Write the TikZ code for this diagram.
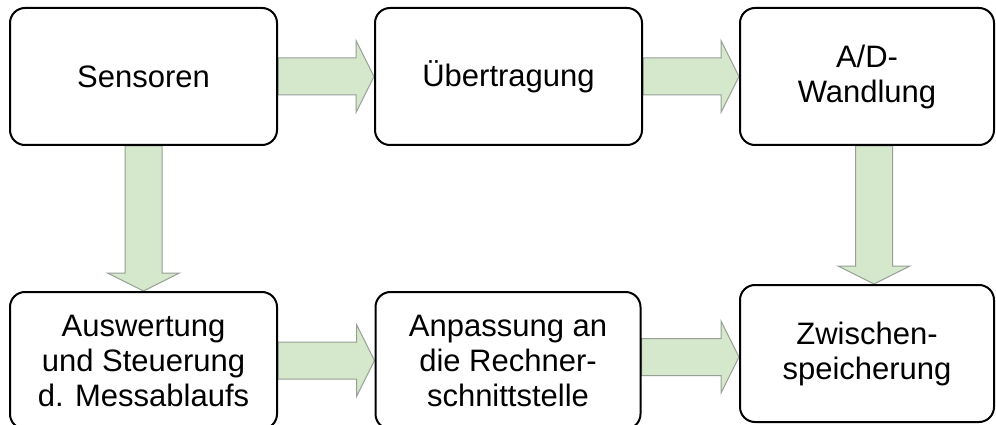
\documentclass[tikz,border=0pt]{standalone}
\usepackage{fontspec}
\setmainfont{Liberation Sans}
\usetikzlibrary{calc,backgrounds}
\definecolor{arrowfill}{RGB}{214,232,203}
\definecolor{arrowdraw}{RGB}{150,160,150}
\tikzset{
  box/.style={draw=black, line width=2pt, fill=white, rounded corners=15pt,
    minimum height=137pt, align=center, inner sep=0pt,
    font=\fontsize{31}{35}\selectfont},
  fatarrow/.style={fill=arrowfill, draw=arrowdraw, line width=1pt, line join=miter}
}
\newcommand\hfat[2]{\path[fatarrow] let \p1=(#1.east), \p2=(#2.west), \p3=($(#1.east)!.5!(#2.west)$) in
 (\x1,\y3+18.5pt) -- (\x2-18pt,\y3+18.5pt) -- (\x2-18pt,\y3+36pt) -- (\x2,\y3) -- (\x2-18pt,\y3-36pt) -- (\x2-18pt,\y3-18.5pt) -- (\x1,\y3-18.5pt) -- cycle;}
\newcommand\vfat[3]{\path[fatarrow] let \p1=(#2.south), \p2=(#3.north) in
 (\x1+#1-18.5pt,\y1) -- (\x1+#1-18.5pt,\y2+18pt) -- (\x1+#1-36pt,\y2+18pt) -- (\x1+#1,\y2) -- (\x1+#1+36pt,\y2+18pt) -- (\x1+#1+18.5pt,\y2+18pt) -- (\x1+#1+18.5pt,\y1) -- cycle;}
\begin{document}
\begin{tikzpicture}[x=1pt,y=-1pt]
\useasboundingbox (0,0) rectangle (996,425);
\clip (0,0) rectangle (996,425);
\node[box, minimum width=267pt] (sens) at (143.5,76.5) {Sensoren};
\node[box, minimum width=267pt] (uebe) at (508.5,76.5) {Übertragung};
\node[box, minimum width=254pt] (adw) at (867,76.5) {A/D-\\Wandlung};
\node[box, minimum width=267pt] (ausw) at (143.5,360.5) {Auswertung\\und Steuerung\\d. Messablaufs};
\node[box, minimum width=265pt] (anp) at (508,360.5) {Anpassung an\\die Rechner-\\schnittstelle};
\node[box, minimum width=254pt] (zwi) at (867,353.5) {Zwischen-\\speicherung};
\begin{pgfonlayer}{background}
\fill[white] (0,0) rectangle (996,425);
\hfat{sens}{uebe}
\hfat{uebe}{adw}
\hfat{ausw}{anp}
\hfat{anp}{zwi}
\vfat{0pt}{sens}{ausw}
\vfat{7pt}{adw}{zwi}
\end{pgfonlayer}
\end{tikzpicture}
\end{document}
